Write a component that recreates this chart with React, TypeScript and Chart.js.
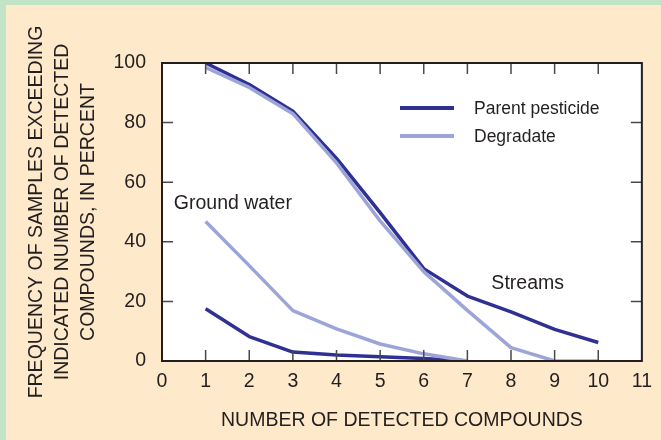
import React, { useEffect, useRef } from "react";
import { Chart, registerables } from "chart.js";

Chart.register(...registerables);

// ---- data ----
const streamCompounds = [1, 2, 3, 4, 5, 6, 7, 8, 9, 10];
const groundCompounds = [1, 2, 3, 4, 5, 6, 7];
const streamsParent = [100, 92.8, 83.8, 68, 49.8, 31, 21.8, 16.5, 10.6, 6.2];
const streamsDegradate = [98.5, 91.8, 83, 66.5, 47, 30, 17, 4.5, 0, 0];
const groundParent = [17.5, 8.2, 3, 2, 1.4, 0.8, 0];
const groundDegradate = [46.8, 32, 16.9, 10.8, 5.7, 2.4, 0];
const legendLabels = ["Parent pesticide", "Degradate"];
const xTitle = "NUMBER OF DETECTED COMPOUNDS";
const yTitle = [
  "FREQUENCY OF SAMPLES EXCEEDING",
  "INDICATED NUMBER OF DETECTED",
  "COMPOUNDS, IN PERCENT",
];
const groundLabel = "Ground water";
const streamsLabel = "Streams";

// ---- styles ----
const PARENT = "#2e3192";
const DEGRADATE = "#9ca4d8";
const TEXT = "#231f20";
const FONT = "'Liberation Sans', Arial, Helvetica, sans-serif";

const toPoints = (xs: number[], ys: number[]) => xs.map((x, i) => ({ x, y: ys[i] }));

const chartPlugin = {
  id: "customDecor",
  beforeDatasetsDraw(chart: any) {
    const { ctx, chartArea: a } = chart;
    ctx.save();
    ctx.fillStyle = "#ffffff";
    ctx.fillRect(a.left, a.top, a.right - a.left, a.bottom - a.top);
    ctx.restore();
  },
  afterDatasetsDraw(chart: any) {
    const { ctx, chartArea: a, scales } = chart;
    const xs = scales.x;
    const ys = scales.y;
    ctx.save();
    // inside tick marks
    ctx.strokeStyle = "#4a4a4a";
    ctx.lineWidth = 1.5;
    const tl = 11;
    xs.ticks.forEach((t: any) => {
      if (t.value <= xs.min || t.value >= xs.max) return;
      const px = xs.getPixelForValue(t.value);
      ctx.beginPath();
      ctx.moveTo(px, a.bottom);
      ctx.lineTo(px, a.bottom - tl);
      ctx.moveTo(px, a.top);
      ctx.lineTo(px, a.top + tl);
      ctx.stroke();
    });
    ys.ticks.forEach((t: any) => {
      if (t.value <= ys.min || t.value >= ys.max) return;
      const py = ys.getPixelForValue(t.value);
      ctx.beginPath();
      ctx.moveTo(a.left, py);
      ctx.lineTo(a.left + tl, py);
      ctx.moveTo(a.right, py);
      ctx.lineTo(a.right - tl, py);
      ctx.stroke();
    });
    // frame
    ctx.strokeStyle = TEXT;
    ctx.lineWidth = 2;
    ctx.strokeRect(a.left, a.top, a.right - a.left, a.bottom - a.top);

    // legend
    const colors = [PARENT, DEGRADATE];
    ctx.font = `17.5px ${FONT}`;
    ctx.textBaseline = "middle";
    ctx.textAlign = "left";
    legendLabels.forEach((lab, i) => {
      const ly = a.top + 45 + i * 28;
      ctx.strokeStyle = colors[i];
      ctx.lineWidth = 4;
      ctx.beginPath();
      ctx.moveTo(a.left + 238, ly);
      ctx.lineTo(a.left + 292, ly);
      ctx.stroke();
      ctx.fillStyle = TEXT;
      ctx.fillText(lab, a.left + 312, ly + 1.5);
    });

    // annotations
    ctx.font = `19.5px ${FONT}`;
    ctx.fillStyle = TEXT;
    ctx.fillText(groundLabel, xs.getPixelForValue(0.27), ys.getPixelForValue(52.7));
    ctx.fillText(streamsLabel, xs.getPixelForValue(7.55), ys.getPixelForValue(25.8));

    // axis titles
    ctx.textAlign = "center";
    ctx.fillText(xTitle, (a.left + a.right) / 2, 421);
    const cy = (a.top + a.bottom) / 2;
    yTitle.forEach((line, i) => {
      ctx.save();
      ctx.translate(37 + i * 26, cy);
      ctx.rotate(-Math.PI / 2);
      ctx.fillText(line, 0, 0);
      ctx.restore();
    });
    ctx.restore();
  },
};

export default function App() {
  const ref = useRef<HTMLCanvasElement | null>(null);

  useEffect(() => {
    document.body.style.margin = "0";
    if (!ref.current) return;
    const lineDs = (data: any[], color: string) => ({
      data,
      borderColor: color,
      backgroundColor: color,
      borderWidth: 3.5,
      pointRadius: 0,
      tension: 0,
      borderJoinStyle: "round" as const,
      fill: false,
    });
    const chart = new Chart(ref.current, {
      type: "line",
      data: {
        datasets: [
          lineDs(toPoints(groundCompounds, groundDegradate), DEGRADATE),
          lineDs(toPoints(groundCompounds, groundParent), PARENT),
          lineDs(toPoints(streamCompounds, streamsDegradate), DEGRADATE),
          lineDs(toPoints(streamCompounds, streamsParent), PARENT),
        ],
      },
      options: {
        responsive: false,
        animation: false,
        devicePixelRatio: 1,
        layout: { padding: { top: 63, right: 18, left: 0, bottom: 0 } },
        plugins: { legend: { display: false }, tooltip: { enabled: false } },
        scales: {
          x: {
            type: "linear",
            min: 0,
            max: 11,
            grid: { display: false, drawTicks: false },
            border: { display: false },
            ticks: {
              stepSize: 1,
              padding: 9,
              color: TEXT,
              font: { family: FONT, size: 19.5 },
              maxRotation: 0,
            },
            afterFit: (s: any) => {
              s.height = 79;
            },
          },
          y: {
            min: 0,
            max: 100,
            grid: { display: false, drawTicks: false },
            border: { display: false },
            ticks: {
              stepSize: 20,
              padding: 16,
              color: TEXT,
              font: { family: FONT, size: 19.5 },
            },
            afterFit: (s: any) => {
              s.width = 162;
            },
          },
        },
      },
      plugins: [chartPlugin],
    });
    return () => chart.destroy();
  }, []);

  return (
    <div style={{ position: "relative", width: 661, height: 440, background: "#c1e4c6", overflow: "hidden" }}>
      <div style={{ position: "absolute", left: 6, top: 5, right: 0, bottom: 0, background: "#fee9ca" }} />
      <canvas ref={ref} width={661} height={440} style={{ position: "absolute", left: 0, top: 0, display: "block" }} />
    </div>
  );
}
